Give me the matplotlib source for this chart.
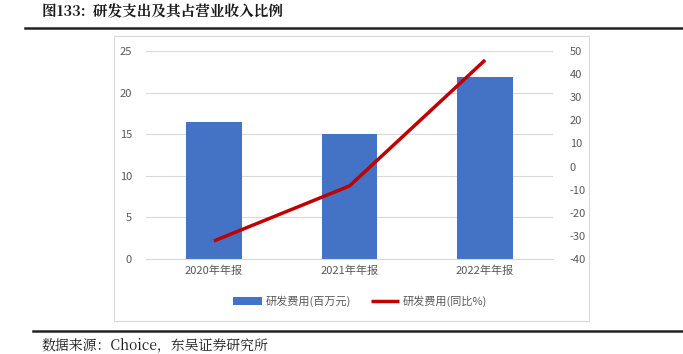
import matplotlib.pyplot as plt
from matplotlib.patches import Rectangle
from matplotlib.lines import Line2D

plt.rcParams['font.family'] = ['Noto Sans CJK SC', 'DejaVu Sans']
plt.rcParams['axes.unicode_minus'] = False

categories = ['2020年年报', '2021年年报', '2022年年报']
rd_expense = [16.45, 15.0, 21.85]       # 研发费用(百万元)
rd_yoy = [-32.2, -8.4, 46.1]            # 研发费用(同比%)
left_ticks = [0, 5, 10, 15, 20, 25]
right_ticks = [-40, -30, -20, -10, 0, 10, 20, 30, 40, 50]

W, H = 683, 354
fig = plt.figure(figsize=(W / 100, H / 100), dpi=100)

def fx(px):
    return px / W

def fy(py):
    return 1 - py / H

serif = ['Noto Serif CJK SC', 'Noto Sans CJK SC', 'DejaVu Serif']

# title and rules
fig.text(fx(42), fy(13), '图133:  研发支出及其占营业收入比例', fontsize=10.5,
         fontweight='bold', color='#1a1a1a', va='center', ha='left', family=serif)
fig.add_artist(Line2D([fx(25), fx(683)], [fy(27.5), fy(27.5)], color='#222222', lw=1.8))
fig.add_artist(Line2D([fx(33), fx(683)], [fy(330.5), fy(330.5)], color='#222222', lw=1.8))
fig.text(fx(42), fy(345), '数据来源：Choice，东吴证券研究所', fontsize=10,
         color='#1a1a1a', va='center', ha='left', family=serif)

# chart frame
fig.add_artist(Rectangle((fx(114), fy(321)), fx(589) - fx(114), fy(36) - fy(321),
                         fill=False, edgecolor='#d9d9d9', lw=0.8))

ax = fig.add_axes([fx(146), fy(259), fx(553) - fx(146), fy(51) - fy(259)])
ax2 = ax.twinx()

x = range(len(categories))
ax.bar(x, rd_expense, width=0.41, color='#4472c4', zorder=2, label='研发费用(百万元)')
ax.set_ylim(0, 25)
ax.set_xlim(-0.5, 2.5)
ax.set_yticks(left_ticks)
ax.yaxis.grid(True, color='#d9d9d9', lw=0.8)
ax.set_axisbelow(True)
ax.set_xticks(list(x))
ax.set_xticklabels(categories)

ax2.plot(x, rd_yoy, color='#c00000', lw=2.5, zorder=3, label='研发费用(同比%)',
         solid_capstyle='butt')
ax2.set_ylim(-40, 50)
ax2.set_yticks(right_ticks)

for a in (ax, ax2):
    for s in a.spines.values():
        s.set_visible(False)
    a.tick_params(length=0, labelsize=8, colors='#595959')
ax.spines['bottom'].set_visible(True)
ax.spines['bottom'].set_color('#d9d9d9')
ax.tick_params(axis='y', pad=10)
ax.tick_params(axis='x', pad=5)
ax2.tick_params(axis='y', pad=12)
for lbl in ax2.get_yticklabels():
    lbl.set_horizontalalignment('left')

h1, l1 = ax.get_legend_handles_labels()
h2, l2 = ax2.get_legend_handles_labels()
fig.legend(h1 + h2, l1 + l2, loc='center', bbox_to_anchor=(fx(360), fy(301)),
           ncol=2, frameon=False, fontsize=8, labelcolor='#595959',
           handlelength=2.6, handletextpad=0.3, columnspacing=1.8)

fig.savefig('out.png', dpi=100)
